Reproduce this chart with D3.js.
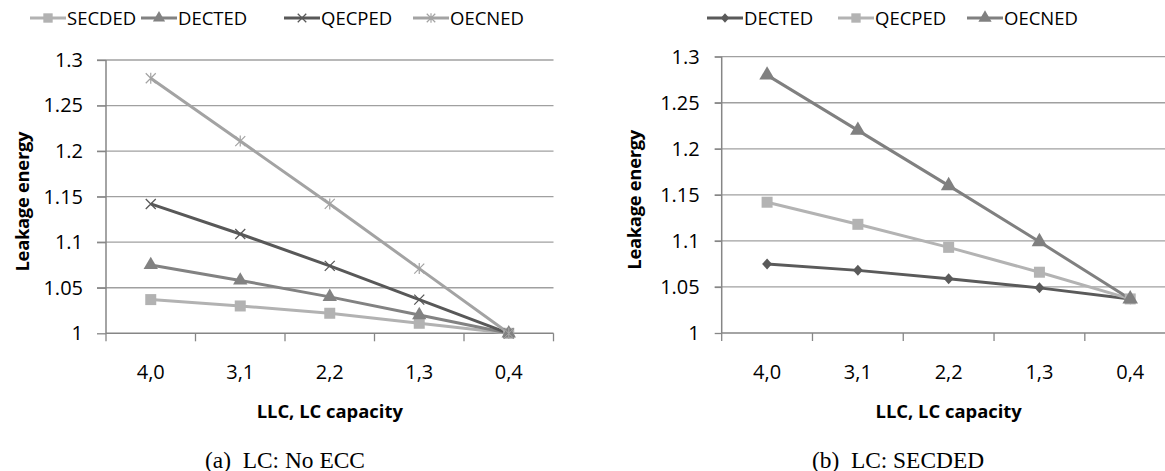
<!DOCTYPE html>
<html><head><meta charset="utf-8">
<script src="https://cdn.jsdelivr.net/npm/d3@7"></script>
<style>
body{margin:0;background:#fff;}
svg{display:block;}
text{font-family:"Open Sans",Lato,sans-serif;}
</style></head>
<body>
<svg id="c" width="1165" height="471"></svg>
<script>
// ---------- data ----------
const categories = ["4,0","3,1","2,2","1,3","0,4"];
const yTickValues = [1,1.05,1.1,1.15,1.2,1.25,1.3];
const yTickLabels = ["1","1.05","1.1","1.15","1.2","1.25","1.3"];

// Chart (a) LC: No ECC
const aSECDED = [1.037,1.030,1.022,1.011,1.000];
const aDECTED = [1.075,1.058,1.040,1.020,1.000];
const aQECPED = [1.142,1.109,1.074,1.037,1.000];
const aOECNED = [1.280,1.211,1.142,1.071,1.000];

// Chart (b) LC: SECDED
const bDECTED = [1.075,1.068,1.059,1.049,1.037];
const bQECPED = [1.142,1.118,1.093,1.066,1.037];
const bOECNED = [1.280,1.220,1.160,1.099,1.037];

const xTitle = "LLC, LC capacity";
const yTitle = "Leakage energy";

// ---------- drawing ----------
const svg = d3.select("#c");
const FONT = "'Open Sans', Lato, sans-serif";

function marker(g, type, color, size){
  const s = size/2;
  if(type==="square"){
    g.append("rect").attr("x",-s).attr("y",-s).attr("width",size).attr("height",size).attr("fill",color);
  } else if(type==="triangle"){
    g.append("path").attr("d",d3.symbol(d3.symbolTriangle, size*size*0.62)()).attr("fill",color);
  } else if(type==="diamond"){
    g.append("path").attr("d",`M0,${-s}L${s*0.9},0L0,${s}L${-s*0.9},0Z`).attr("fill",color);
  } else if(type==="x"){
    g.append("path").attr("d",`M${-s},${-s}L${s},${s}M${-s},${s}L${s},${-s}`)
      .attr("stroke",color).attr("stroke-width",1.3).attr("fill","none");
  } else if(type==="star"){
    g.append("path").attr("d",`M${-s},${-s}L${s},${s}M${-s},${s}L${s},${-s}M0,${-s*1.1}L0,${s*1.1}`)
      .attr("stroke",color).attr("stroke-width",1.2).attr("fill","none");
  }
}

function drawChart(cfg){
  const g = svg.append("g");
  const x = d3.scaleBand().domain(categories).range([cfg.x0, cfg.x1]).padding(0);
  const y = d3.scaleLinear().domain([1,1.3]).range([cfg.yBottom, cfg.yTop]);

  // gridlines (extend left as ticks)
  g.append("g").selectAll("line").data(yTickValues.slice(1)).join("line")
    .attr("x1", cfg.x0 - cfg.tickLen).attr("x2", cfg.x1)
    .attr("y1", d=>y(d)).attr("y2", d=>y(d))
    .attr("stroke","#a0a0a0").attr("stroke-width",1.3);

  // y axis
  const yAxis = d3.axisLeft(y).tickValues(yTickValues)
    .tickFormat((d,i)=>yTickLabels[i]).tickSize(cfg.tickLen).tickPadding(cfg.labelPad);
  const ya = g.append("g").attr("transform",`translate(${cfg.x0},0)`).call(yAxis);
  ya.attr("font-size",20).attr("font-family",FONT);
  ya.select(".domain").attr("stroke","#868686").attr("stroke-width",1.5)
    .attr("d",`M0,${cfg.yBottom}V${cfg.yTop}`);
  ya.selectAll(".tick line").attr("stroke","#868686").attr("stroke-width",1.3);
  ya.selectAll(".tick text").attr("font-size",20).attr("fill","#000").style("font-family",FONT);

  // x axis (labels at band centers)
  const xAxis = d3.axisBottom(x).tickSize(0).tickPadding(31.5);
  const xa = g.append("g").attr("transform",`translate(0,${cfg.yBottom})`).call(xAxis);
  xa.attr("font-size",20).attr("font-family",FONT);
  xa.select(".domain").attr("stroke","#868686").attr("stroke-width",1.5)
    .attr("d",`M${cfg.x0},0H${cfg.x1}`);
  xa.selectAll(".tick text").attr("font-size",20).attr("fill","#000").style("font-family",FONT);
  // boundary tick marks
  const bounds = categories.map(c=>x(c)).concat([x(categories[categories.length-1])+x.bandwidth()]);
  g.append("g").selectAll("line").data(bounds).join("line")
    .attr("x1",d=>d).attr("x2",d=>d).attr("y1",cfg.yBottom).attr("y2",cfg.yBottom+8)
    .attr("stroke","#868686").attr("stroke-width",1.3);

  // series
  const line = d3.line().x((d,i)=>x(categories[i])+x.bandwidth()/2).y(d=>y(d));
  cfg.series.forEach(s=>{
    g.append("path").datum(s.values).attr("d",line)
      .attr("fill","none").attr("stroke",s.color).attr("stroke-width",3);
  });
  cfg.series.forEach(s=>{
    s.values.forEach((v,i)=>{
      const m = g.append("g").attr("transform",`translate(${x(categories[i])+x.bandwidth()/2},${y(v)})`);
      marker(m, s.marker, s.markerColor||s.color, s.size);
    });
  });

  // axis titles
  g.append("text").attr("x",(cfg.x0+cfg.x1)/2).attr("y",418).attr("text-anchor","middle")
    .attr("font-size",18.4).attr("font-weight","bold").text(xTitle);
  g.append("text").attr("transform",`translate(${cfg.yTitleX},${(cfg.yTop+cfg.yBottom)/2+5}) rotate(-90)`)
    .attr("text-anchor","middle").attr("font-size",18.4).attr("font-weight","bold").attr("letter-spacing",-0.3).text(yTitle);

  // caption
  g.append("text").attr("x",cfg.captionX).attr("y",467.5).attr("text-anchor","middle")
    .attr("font-size",23.4).style("font-family","'Liberation Serif','DejaVu Serif',serif").text(cfg.caption);

  // legend
  cfg.series.forEach((s,i)=>{
    const lx = cfg.legendX[i];
    const lg = g.append("g").attr("transform",`translate(${lx},18)`);
    lg.append("line").attr("x1",0).attr("x2",36).attr("stroke",s.color).attr("stroke-width",3);
    const m = lg.append("g").attr("transform","translate(18,0)");
    marker(m, s.marker, s.markerColor||s.color, s.size*0.85);
    lg.append("text").attr("x",37).attr("y",6.6).attr("font-size",18.5).text(s.name);
  });
}

drawChart({
  x0:106, x1:553.5, yTop:60, yBottom:333.3, tickLen:9, labelPad:14,
  yTitleX:28.5, caption:"(a)\u00a0\u00a0LC: No ECC", captionX:285,
  legendX:[30,141,284,413],
  series:[
    {name:"SECDED", values:aSECDED, color:"#b2b2b2", marker:"square", size:11},
    {name:"DECTED", values:aDECTED, color:"#828282", marker:"triangle", size:12},
    {name:"QECPED", values:aQECPED, color:"#585858", marker:"x", size:10},
    {name:"OECNED", values:aOECNED, color:"#a3a3a3", marker:"star", size:10}
  ]
});

drawChart({
  x0:721.7, x1:1175.6, yTop:56.7, yBottom:333, tickLen:7, labelPad:15,
  yTitleX:641, caption:"(b)\u00a0\u00a0LC: SECDED", captionX:898,
  legendX:[707,838,967],
  series:[
    {name:"DECTED", values:bDECTED, color:"#5a5a5a", marker:"diamond", size:11},
    {name:"QECPED", values:bQECPED, color:"#b3b3b3", marker:"square", size:11},
    {name:"OECNED", values:bOECNED, color:"#808080", marker:"triangle", size:13}
  ]
});
</script>
</body></html>
